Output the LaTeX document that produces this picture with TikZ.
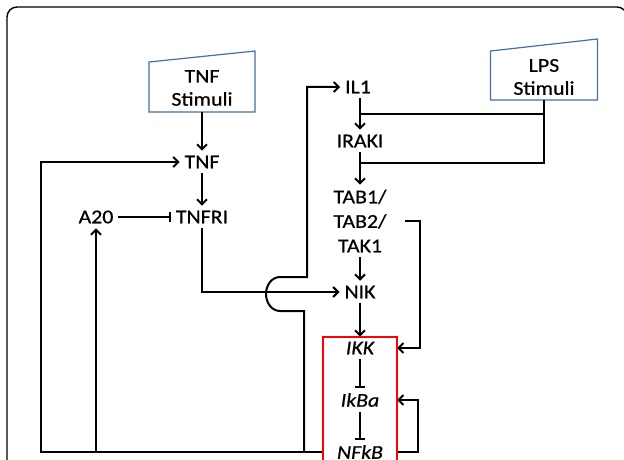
\documentclass[tikz,border=0pt]{standalone}
\usepackage{fontspec}
\setmainfont{Carlito}[FakeStretch=1.12,FakeBold=0.6]
\usetikzlibrary{arrows.meta,calc}
\definecolor{stimblue}{RGB}{68,112,164}
\tikzset{
  >={Straight Barb[length=5pt,width=10pt]},
  inhib/.style={-{Bar[width=10pt]}},
  lbl/.style={font=\fontsize{19.5}{23}\selectfont,inner sep=4pt},
  boxlbl/.style={lbl,font=\fontsize{19.5}{23}\selectfont\itshape,minimum width=72pt},
  stim/.style={lbl,align=center},
  stimline/.style={draw=stimblue,line width=1.2pt},
}

\begin{document}
\begin{tikzpicture}[x=1pt,y=-1pt,line width=2pt]
        \useasboundingbox (0,0) rectangle (624,460);
        \draw[line width=1.4pt,rounded corners=10pt] (7,480) -- (7,7) -- (627,7) -- (627,480);

        \node[stim,minimum width=104pt,minimum height=46pt] (tnfs) at (202,88) {TNF\\Stimuli};
        \node[stim,minimum width=105pt,minimum height=44pt] (lpss) at (544,77) {LPS\\Stimuli};
        \draw[stimline] (tnfs.south west) -- (tnfs.south east) -- ([yshift=13pt]tnfs.north east) -- ([yshift=2pt]tnfs.north west) -- cycle;
        \draw[stimline] (lpss.south west) -- (lpss.south east) -- ([yshift=15pt]lpss.north east) -- ([yshift=3pt]lpss.north west) -- cycle;

        \node[lbl] (tnf) at (202,162) {TNF};
        \node[lbl] (tnfr) at (202,217) {TNFRI};
        \node[lbl] (a20) at (96,217) {A20};
        \node[lbl] (il1) at (358,87) {IL1};
        \node[lbl] (iraki) at (360,141) {IRAKI};
        \node[lbl,align=center,font=\fontsize{19.5}{24.5}\selectfont] (tab) at (360,221) {TAB1/\\TAB2/\\TAK1};
        \node[lbl] (nik) at (360,292) {NIK};
        \node[boxlbl] (ikk) at (360,348) {IKK};
        \node[boxlbl] (ikba) at (360,400) {IkBa};
        \node[boxlbl] (nfkb) at (360,452) {NFkB};
        \coordinate (il1src) at ($(nfkb.west)+(-19,0)$);

        \draw[->] (tnfs) -- (tnf);
        \draw[->] (tnf) -- (tnfr);
        \draw[inhib] (a20) -- (tnfr);
        \draw[->] (tnfr) |- (nik);
        \draw[->] (nfkb.west) -| ([xshift=-139pt]tnf.west) -- (tnf.west);
        \draw[->] (a20 |- nfkb) -- (a20);
        \draw[->] (il1src) |- (280,311) arc[start angle=90,end angle=270,x radius=14,y radius=17] -- (307,277) |- (il1);

        \draw[->] (iraki |- il1.south) -- (iraki);
        \draw (lpss) |- ($(il1)!.5!(iraki)$);
        \draw (lpss) |- ($(iraki)!.5!(tab.north)$);
        \draw[->] (iraki) -- (tab);
        \draw[->] (tab) -- (nik);
        \draw[->] (nik) -- (ikk);
        \draw[->] ([xshift=14pt]tab.east) -- ++(15,0) |- (ikk.east);

        \draw[inhib] (ikk) -- (ikba);
        \draw[inhib] (ikba) -- (nfkb);
        \draw[->] (nfkb.east) -- ++(21,0) |- (ikba.east);
        \draw[red,line width=1.6pt] (ikk.north west) rectangle ([yshift=-40pt]nfkb.south east);
    \end{tikzpicture}
\end{document}
